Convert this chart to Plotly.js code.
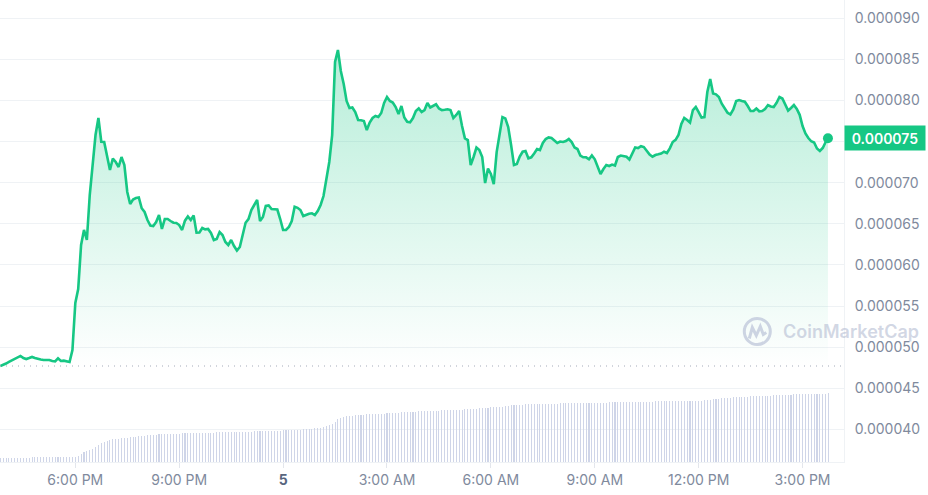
<!DOCTYPE html>
<html>
<head>
<meta charset="utf-8">
<script src="https://cdn.plot.ly/plotly-3.0.1.min.js"></script>
<style>html,body{margin:0;padding:0;background:#fff;}#chart{width:928px;height:495px;}</style>
</head>
<body>
<div id="chart"></div>
<script>
// ---- data ----
const priceStart = '2024-03-04 15:50:00';
const priceStepMin = 5;
const priceLastTime = '2024-03-05 15:44:00';
const price = [
4.770e-5,4.782e-5,4.800e-5,4.819e-5,4.837e-5,4.855e-5,4.880e-5,4.892e-5,4.867e-5,4.855e-5,
4.867e-5,4.880e-5,4.867e-5,4.855e-5,4.849e-5,4.843e-5,4.843e-5,4.843e-5,4.831e-5,4.827e-5,
4.864e-5,4.831e-5,4.835e-5,4.831e-5,4.819e-5,4.965e-5,5.537e-5,5.707e-5,6.242e-5,6.425e-5,
6.303e-5,6.850e-5,7.252e-5,7.580e-5,7.787e-5,7.499e-5,7.495e-5,7.300e-5,7.155e-5,7.294e-5,
7.252e-5,7.191e-5,7.313e-5,7.215e-5,6.887e-5,6.741e-5,6.796e-5,6.814e-5,6.820e-5,6.689e-5,
6.644e-5,6.546e-5,6.479e-5,6.473e-5,6.522e-5,6.607e-5,6.437e-5,6.558e-5,6.558e-5,6.534e-5,
6.513e-5,6.510e-5,6.485e-5,6.425e-5,6.538e-5,6.589e-5,6.546e-5,6.601e-5,6.392e-5,6.394e-5,
6.449e-5,6.433e-5,6.437e-5,6.388e-5,6.303e-5,6.315e-5,6.400e-5,6.364e-5,6.279e-5,6.242e-5,
6.303e-5,6.230e-5,6.175e-5,6.218e-5,6.364e-5,6.513e-5,6.558e-5,6.668e-5,6.729e-5,6.790e-5,
6.534e-5,6.583e-5,6.717e-5,6.723e-5,6.680e-5,6.678e-5,6.674e-5,6.558e-5,6.425e-5,6.425e-5,
6.461e-5,6.534e-5,6.708e-5,6.695e-5,6.668e-5,6.595e-5,6.613e-5,6.622e-5,6.628e-5,6.607e-5,
6.656e-5,6.729e-5,6.838e-5,7.021e-5,7.252e-5,7.580e-5,8.468e-5,8.614e-5,8.359e-5,8.201e-5,
7.994e-5,7.909e-5,7.915e-5,7.860e-5,7.763e-5,7.759e-5,7.751e-5,7.641e-5,7.732e-5,7.787e-5,
7.811e-5,7.799e-5,7.848e-5,7.970e-5,8.043e-5,7.994e-5,7.976e-5,7.921e-5,7.836e-5,7.933e-5,
7.793e-5,7.742e-5,7.734e-5,7.787e-5,7.872e-5,7.903e-5,7.860e-5,7.884e-5,7.970e-5,7.915e-5,
7.933e-5,7.954e-5,7.903e-5,7.884e-5,7.888e-5,7.893e-5,7.884e-5,7.787e-5,7.824e-5,7.872e-5,
7.690e-5,7.540e-5,7.519e-5,7.215e-5,7.313e-5,7.428e-5,7.398e-5,7.313e-5,6.996e-5,7.173e-5,
7.106e-5,6.984e-5,7.373e-5,7.580e-5,7.799e-5,7.783e-5,7.678e-5,7.459e-5,7.215e-5,7.227e-5,
7.319e-5,7.377e-5,7.386e-5,7.297e-5,7.309e-5,7.355e-5,7.410e-5,7.398e-5,7.483e-5,7.532e-5,
7.551e-5,7.544e-5,7.519e-5,7.483e-5,7.501e-5,7.495e-5,7.507e-5,7.532e-5,7.495e-5,7.428e-5,
7.410e-5,7.331e-5,7.309e-5,7.309e-5,7.285e-5,7.331e-5,7.285e-5,7.203e-5,7.106e-5,7.167e-5,
7.215e-5,7.203e-5,7.221e-5,7.209e-5,7.313e-5,7.331e-5,7.325e-5,7.316e-5,7.282e-5,7.361e-5,
7.428e-5,7.422e-5,7.444e-5,7.434e-5,7.386e-5,7.343e-5,7.316e-5,7.337e-5,7.345e-5,7.355e-5,
7.377e-5,7.361e-5,7.418e-5,7.495e-5,7.522e-5,7.580e-5,7.714e-5,7.787e-5,7.763e-5,7.732e-5,
7.884e-5,7.921e-5,7.860e-5,7.793e-5,7.799e-5,8.103e-5,8.262e-5,8.085e-5,8.075e-5,8.043e-5,
7.961e-5,7.909e-5,7.852e-5,7.830e-5,7.891e-5,7.994e-5,8.006e-5,7.994e-5,7.985e-5,7.933e-5,
7.872e-5,7.872e-5,7.903e-5,7.869e-5,7.872e-5,7.897e-5,7.945e-5,7.927e-5,7.921e-5,7.973e-5,
8.043e-5,8.024e-5,7.945e-5,7.878e-5,7.909e-5,7.945e-5,7.897e-5,7.826e-5,7.690e-5,7.599e-5,
7.544e-5,7.504e-5,7.489e-5,7.416e-5,7.386e-5,7.422e-5,7.495e-5,7.540e-5
];
const volumeStart = '2024-03-04 15:50:00';
const volumeStepMin = 5;
const volumeK = [
44,44,44,44,45,45,45,45,45,45,45,46,46,46,46,46,46,46,46,47,47,47,47,47,47,
48,52,62,80,97,107,116,130,152,172,186,203,214,218,226,230,234,238,242,245,248,251,254,258,263,264,266,269,272,274,276,278,279,280,282,284,
285,285,286,287,288,288,289,290,291,292,293,294,
294,295,296,297,297,298,299,300,300,301,302,303,304,
305,305,306,307,308,309,310,311,312,313,314,315,317,
318,319,320,321,322,324,
326,328,331,334,338,342,345,352,360,372,382,405,427,440,450,456,460,464,468,470,473,475,477,
478,479,481,482,484,485,487,488,490,492,495,500,
501,502,503,504,505,506,507,508,510,511,513,514,
515,516,517,518,519,520,521,522,524,
526,528,530,532,534,536,538,541,544,
546,548,550,552,555,558,562,567,
570,572,573,575,576,577,578,579,580,581,582,583,584,584,
585,585,586,586,587,587,588,588,589,589,590,590,591,591,592,592,594,
595,595,596,596,597,597,598,598,599,599,600,601,602,603,604,604,
605,605,606,606,606,607,607,607,608,608,608,609,609,609,610,610,611,
612,614,617,620,624,627,
630,633,636,638,641,644,
646,648,650,652,654,655,657,
658,659,660,661,662,663,664,667,
668,669,670,671,672,674,677,
678,679,680,681,682,683,684,684,684,685,685,686
];
const xTickVals = ['2024-03-04 18:00','2024-03-04 21:00','2024-03-05 00:00','2024-03-05 03:00',
                   '2024-03-05 06:00','2024-03-05 09:00','2024-03-05 12:00','2024-03-05 15:00'];
const xTickText = ['6:00 PM','9:00 PM','<span style="color:#58667e"><b>5</b></span>','3:00 AM',
                   '6:00 AM','9:00 AM','12:00 PM','3:00 PM'];
const yTickVals = [4.0e-5,4.5e-5,5.0e-5,5.5e-5,6.0e-5,6.5e-5,7.0e-5,7.5e-5,8.0e-5,8.5e-5,9.0e-5];
const yTickText = ['0.000040','0.000045','0.000050','0.000055','0.000060','0.000065','0.000070','',
                   '0.000080','0.000085','0.000090'];
const watermarkText = 'CoinMarketCap';

// ---- helpers ----
function toMs(s){ const [d,t]=s.split(' '); const [Y,M,D]=d.split('-').map(Number); const [h,m,sec]=t.split(':').map(Number); return Date.UTC(Y,M-1,D,h,m,sec||0); }
function fmt(ms){ return new Date(ms).toISOString().slice(0,19).replace('T',' '); }
function series(start, stepMin, n){ const s=toMs(start); const out=[]; for(let i=0;i<n;i++) out.push(fmt(s+i*stepMin*60000)); return out; }

const priceTimes = series(priceStart, priceStepMin, price.length-1).concat([priceLastTime]);
const volumeTimes = series(volumeStart, volumeStepMin, volumeK.length);
const last = price[price.length-1];
const lastTime = priceTimes[priceTimes.length-1];

const GREEN = '#16c784';
const GRID = '#eff2f5';
const TICK = '#808a9d';
const FONT = 'Inter, sans-serif';

const traces = [
  {
    type:'bar', x: volumeTimes, y: volumeK, yaxis:'y2',
    marker:{color:'#cfd5e8', line:{width:0}}, width: 110000, hoverinfo:'skip'
  },
  {
    type:'scatter', mode:'lines', x: priceTimes, y: price,
    line:{color:GREEN, width:2.6},
    fill:'tozeroy',
    fillgradient:{type:'vertical', start:4.75e-5, stop:8.7e-5,
      colorscale:[[0,'rgba(22,199,132,0)'],[1,'rgba(22,199,132,0.32)']]},
    hoverinfo:'skip'
  },
  {
    type:'scatter', mode:'markers', x:[lastTime], y:[last],
    marker:{color:GREEN, size:10}, hoverinfo:'skip'
  }
];

const layout = {
  width:928, height:495,
  margin:{l:0, r:84, t:0, b:33, pad:0},
  paper_bgcolor:'#ffffff', plot_bgcolor:'#ffffff',
  showlegend:false,
  bargap:0,
  xaxis:{
    type:'date', range:['2024-03-04 15:49:30','2024-03-05 16:11:48'],
    tickmode:'array', tickvals:xTickVals, ticktext:xTickText,
    ticks:'outside', ticklen:5, tickcolor:'#e3e6ec', tickwidth:1,
    showgrid:false, zeroline:false, showline:true, linecolor:GRID, linewidth:1,
    tickfont:{family:FONT, size:14, color:TICK}, fixedrange:true
  },
  yaxis:{
    side:'right', range:[3.602e-5, 9.223e-5],
    tickmode:'array', tickvals:yTickVals, ticktext:yTickText,
    showgrid:true, gridcolor:GRID, gridwidth:1, zeroline:false,
    showline:true, linecolor:GRID, linewidth:1, ticks:'', ticklabelstandoff:7,
    tickfont:{family:FONT, size:14, color:TICK}, fixedrange:true
  },
  yaxis2:{overlaying:'y', range:[0,4620], visible:false, fixedrange:true},
  shapes:[
    {type:'line', xref:'paper', x0:0, x1:1, yref:'y', y0:price[0], y1:price[0],
     line:{color:'#a3aab8', width:1, dash:'1px,5px'}},
    {type:'circle', xref:'paper', yref:'paper', xsizemode:'pixel', ysizemode:'pixel',
     xanchor:757.3/844, yanchor:(462-331.5)/462, x0:-13, x1:13, y0:-13, y1:13,
     line:{color:'rgba(190,198,218,0.75)', width:3}},
    {type:'path', xref:'paper', yref:'paper', xsizemode:'pixel', ysizemode:'pixel',
     xanchor:757.3/844, yanchor:(462-331.5)/462,
     path:'M-8,-7 L-5,4 L-1,-4 L3,5 L6,-3 L9,-1',
     line:{color:'rgba(190,198,218,0.75)', width:3}}
  ],
  annotations:[
    {xref:'paper', x:1, xanchor:'left', yref:'y', y:last, yanchor:'middle',
     text:last.toFixed(6), showarrow:false, bgcolor:GREEN, width:80, height:24,
     align:'center', borderpad:0, font:{family:FONT, size:14, color:'#ffffff', weight:600}},
    {xref:'paper', x:781/844, xanchor:'left', yref:'paper', y:(462-331)/462, yanchor:'middle',
     text:watermarkText, showarrow:false,
     font:{family:FONT, size:18, color:'rgba(180,188,210,0.6)', weight:600}}
  ]
};

Plotly.newPlot('chart', traces, layout, {displayModeBar:false, staticPlot:true});
</script>
</body>
</html>
